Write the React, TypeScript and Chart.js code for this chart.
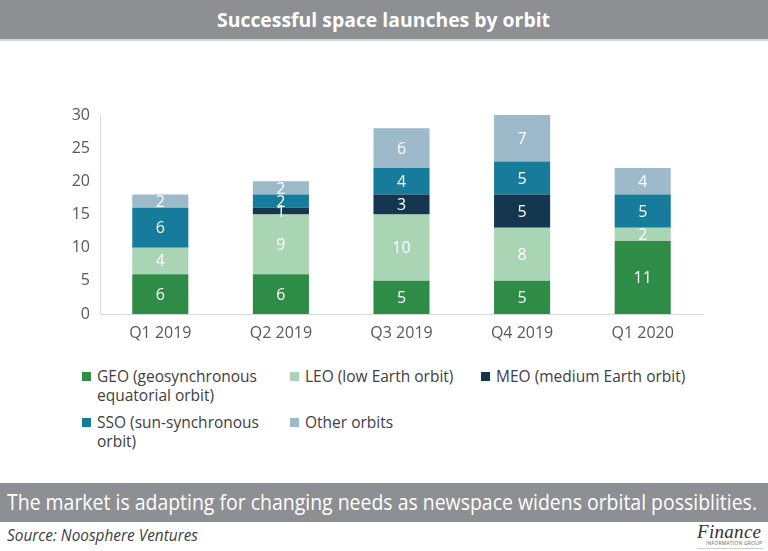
import React, { useEffect, useLayoutEffect, useRef } from "react";
import { Chart, registerables } from "chart.js";

Chart.register(...registerables);

const categories = ["Q1 2019", "Q2 2019", "Q3 2019", "Q4 2019", "Q1 2020"];
const seriesNames = [
  "GEO (geosynchronous equatorial orbit)",
  "LEO (low Earth orbit)",
  "MEO (medium Earth orbit)",
  "SSO (sun-synchronous orbit)",
  "Other orbits",
];
const geoValues = [6, 6, 5, 5, 11];
const leoValues = [4, 9, 10, 8, 2];
const meoValues = [0, 1, 3, 5, 0];
const ssoValues = [6, 2, 4, 5, 5];
const otherValues = [2, 2, 6, 7, 4];
const seriesColors = ["#2f8c46", "#a9d5b5", "#15364f", "#177b9b", "#9cbaca"];
const yTicks = [0, 5, 10, 15, 20, 25, 30];

const titleText = "Successful space launches by orbit";
const bannerText =
  "The market is adapting for changing needs as newspace widens orbital possiblities.";
const sourceText = "Source: Noosphere Ventures";

const FONT = "'Open Sans', 'Noto Sans', sans-serif";

const valueLabels = {
  id: "valueLabels",
  afterDatasetsDraw(chart: any) {
    const ctx = chart.ctx;
    ctx.save();
    ctx.font = `16px ${FONT}`;
    ctx.fillStyle = "#ffffff";
    ctx.textAlign = "center";
    ctx.textBaseline = "middle";
    chart.data.datasets.forEach((ds: any, i: number) => {
      const meta = chart.getDatasetMeta(i);
      meta.data.forEach((el: any, j: number) => {
        const v = ds.data[j];
        if (!v) return;
        const p = el.getProps(["x", "y", "base"], true);
        ctx.fillText(String(v), p.x, (p.y + p.base) / 2 + 1);
      });
    });
    ctx.restore();
  },
};

function FitText({ width, style, children }: { width: number; style?: any; children: any }) {
  const ref = useRef<HTMLSpanElement>(null);
  useLayoutEffect(() => {
    const fit = () => {
      const el = ref.current;
      if (!el) return;
      el.style.transform = "none";
      const w = el.getBoundingClientRect().width;
      if (w > 0) el.style.transform = `scaleX(${width / w})`;
    };
    fit();
    if ((document as any).fonts && (document as any).fonts.ready) {
      (document as any).fonts.ready.then(fit);
    }
  });
  return (
    <span
      ref={ref}
      style={{
        display: "inline-block",
        whiteSpace: "nowrap",
        transformOrigin: "left center",
        ...style,
      }}
    >
      {children}
    </span>
  );
}

export default function App() {
  const canvasRef = useRef<HTMLCanvasElement>(null);

  useEffect(() => {
    if (!canvasRef.current) return;
    const seriesValues = [geoValues, leoValues, meoValues, ssoValues, otherValues];
    const chart = new Chart(canvasRef.current, {
      type: "bar",
      data: {
        labels: categories,
        datasets: seriesNames.map((name, i) => ({
          label: name,
          data: seriesValues[i],
          backgroundColor: seriesColors[i],
          borderWidth: 0,
          barPercentage: 0.465,
          categoryPercentage: 1,
        })),
      },
      options: {
        animation: false,
        responsive: false,
        maintainAspectRatio: false,
        layout: { padding: { top: 15, right: 65, left: 0, bottom: 0 } },
        plugins: {
          legend: { display: false },
          tooltip: { enabled: false },
        },
        scales: {
          x: {
            stacked: true,
            grid: { display: false, drawTicks: false },
            border: { display: true, color: "#d9d9d9", width: 1 },
            ticks: {
              font: { family: FONT, size: 16 },
              color: "#595959",
              padding: 10,
            },
            afterFit: (s: any) => {
              s.height = 36;
              s.paddingLeft = 0;
              s.paddingRight = 0;
            },
          },
          y: {
            stacked: true,
            min: yTicks[0],
            max: yTicks[yTicks.length - 1],
            grid: { display: false, drawTicks: false },
            border: { display: true, color: "#d9d9d9", width: 1 },
            ticks: {
              stepSize: yTicks[1] - yTicks[0],
              font: { family: FONT, size: 16 },
              color: "#595959",
              padding: 10,
            },
            afterFit: (s: any) => {
              s.width = 100;
              s.paddingTop = 0;
              s.paddingBottom = 0;
            },
          },
        },
      } as any,
      plugins: [valueLabels],
    });
    return () => chart.destroy();
  }, []);

  const colWidths = [208, 191, 250];

  return (
    <div
      style={{
        position: "absolute",
        left: 0,
        top: 0,
        width: 768,
        height: 551,
        background: "#ffffff",
        overflow: "hidden",
        fontFamily: FONT,
      }}
    >
      {/* Title bar */}
      <div
        style={{
          position: "absolute",
          left: 0,
          top: 0,
          width: 768,
          height: 39,
          background: "#8d8f92",
          borderBottom: "2px solid #d6d6d6",
        }}
      />
      <div style={{ position: "absolute", left: 217, top: 7, height: 26, lineHeight: "26px" }}>
        <FitText width={333} style={{ color: "#ffffff", fontWeight: 700, fontSize: 19 }}>
          {titleText}
        </FitText>
      </div>

      {/* Chart */}
      <div style={{ position: "absolute", left: 0, top: 100, width: 768, height: 250 }}>
        <canvas ref={canvasRef} width={768} height={250} style={{ width: 768, height: 250, display: "block" }} />
      </div>

      {/* Legend */}
      <div
        style={{
          position: "absolute",
          left: 82,
          top: 367,
          display: "grid",
          gridTemplateColumns: colWidths.map((w) => `${w}px`).join(" "),
          rowGap: 8,
          fontSize: 15.5,
          lineHeight: "19px",
          color: "#404040",
        }}
      >
        {seriesNames.map((name, i) => (
          <div key={name} style={{ display: "flex", alignItems: "flex-start" }}>
            <div
              style={{
                width: 9,
                height: 9,
                marginTop: 5,
                marginRight: 6,
                flex: "0 0 auto",
                background: seriesColors[i],
              }}
            />
            <div style={{ width: colWidths[i % 3] - 22 }}>{name}</div>
          </div>
        ))}
      </div>

      {/* Bottom banner */}
      <div
        style={{
          position: "absolute",
          left: 0,
          top: 483,
          width: 768,
          height: 39,
          background: "#8d8f92",
        }}
      />
      <div style={{ position: "absolute", left: 7, top: 487, height: 30, lineHeight: "30px" }}>
        <FitText width={750} style={{ color: "#ffffff", fontSize: 21 }}>
          {bannerText}
        </FitText>
      </div>

      {/* Source */}
      <div style={{ position: "absolute", left: 7, top: 524, height: 22, lineHeight: "22px" }}>
        <FitText width={191} style={{ color: "#404040", fontSize: 16, fontStyle: "italic" }}>
          {sourceText}
        </FitText>
      </div>

      {/* Logo */}
      <div
        style={{
          position: "absolute",
          left: 697,
          top: 522,
          fontFamily: "'Liberation Serif', serif",
          fontStyle: "italic",
          fontSize: 19,
          lineHeight: "19px",
          color: "#333333",
          letterSpacing: 0.3,
        }}
      >
        Finance
      </div>
      <div
        style={{
          position: "absolute",
          left: 706,
          top: 540,
          fontSize: 5,
          lineHeight: "6px",
          color: "#666666",
          letterSpacing: 0.2,
          whiteSpace: "nowrap",
        }}
      >
        INFORMATION GROUP
      </div>
      <div
        style={{
          position: "absolute",
          left: 697,
          top: 548,
          width: 66,
          height: 1,
          background: "#cccccc",
        }}
      />
    </div>
  );
}
